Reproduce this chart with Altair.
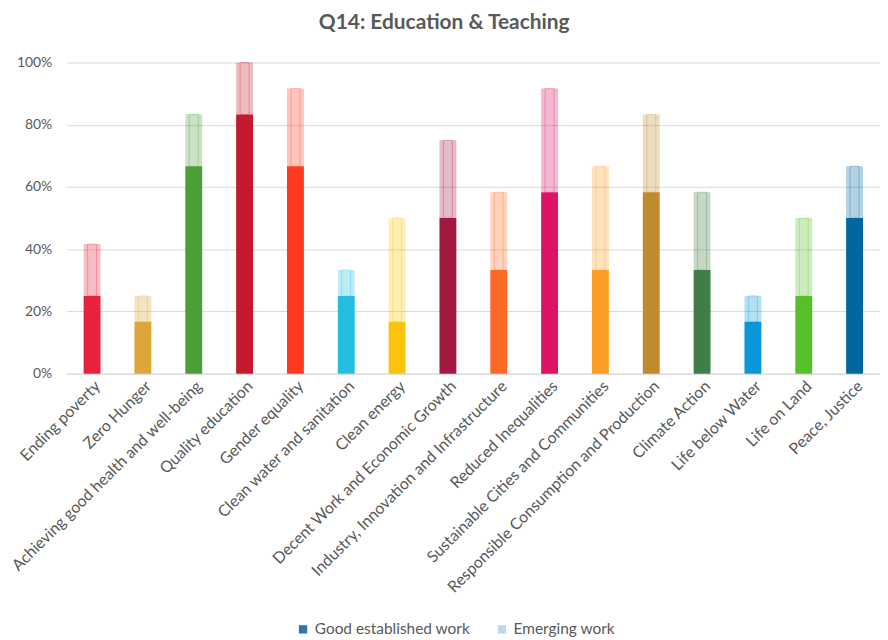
import altair as alt
import pandas as pd

categories = [
    "Ending poverty", "Zero Hunger", "Achieving good health and well-being",
    "Quality education", "Gender equality", "Clean water and sanitation",
    "Clean energy", "Decent Work and Economic Growth",
    "Industry, Innovation and Infrastructure", "Reduced Inequalities",
    "Sustainable Cities and Communities", "Responsible Consumption and Production",
    "Climate Action", "Life below Water", "Life on Land", "Peace, Justice",
]
good = [0.25, 0.1667, 0.6667, 0.8333, 0.6667, 0.25, 0.1667, 0.50,
        0.3333, 0.5833, 0.3333, 0.5833, 0.3333, 0.1667, 0.25, 0.50]
emerging = [0.1667, 0.0833, 0.1667, 0.1667, 0.25, 0.0833, 0.3333, 0.25,
            0.25, 0.3333, 0.3333, 0.25, 0.25, 0.0833, 0.25, 0.1667]
sdg_colors = ["#E5243B", "#DDA63A", "#4C9F38", "#C5192D", "#FF3A21", "#26BDE2",
              "#FCC30B", "#A21942", "#FD6925", "#DD1367", "#FD9D24", "#BF8B2E",
              "#3F7E44", "#0A97D9", "#56C02B", "#00689D"]
series = ["Good established work", "Emerging work"]
legend_colors = ["#2E75B6", "#BDD7EE"]

rows = []
for i, c in enumerate(categories):
    rows.append(dict(cat=c, series=series[0], value=good[i], col=sdg_colors[i], ord=0))
    rows.append(dict(cat=c, series=series[1], value=emerging[i], col=sdg_colors[i], ord=1))
df = pd.DataFrame(rows)

FONT = "Lato"
GRAY = "#595959"

x_enc = alt.X("cat:N", sort=categories, title=None,
              axis=alt.Axis(labelAngle=-45, labelFontSize=16, labelColor=GRAY,
                            labelFont=FONT, ticks=False, domainColor="#d9d9d9",
                            labelPadding=4, labelLimit=500))
y_enc = alt.Y("value:Q", stack="zero", title=None,
              scale=alt.Scale(domain=[0, 1]),
              axis=alt.Axis(format=".0%", values=[0, 0.2, 0.4, 0.6, 0.8, 1.0],
                            labelFontSize=14, labelColor=GRAY, labelFont=FONT,
                            ticks=False, domain=False, gridColor="#d9d9d9",
                            labelPadding=15))

bars = alt.Chart(df).mark_bar(size=17).encode(
    x=x_enc,
    y=y_enc,
    fill=alt.Fill("col:N", scale=None),
    opacity=alt.Opacity("ord:O", scale=alt.Scale(domain=[0, 1], range=[1.0, 0.3]),
                        legend=None),
    order=alt.Order("ord:Q"),
)

hatch = alt.Chart(df).mark_bar(size=9, fill="transparent", strokeWidth=1).encode(
    x=x_enc,
    y=y_enc,
    stroke=alt.Stroke("col:N", scale=None),
    strokeOpacity=alt.StrokeOpacity("ord:O",
                                    scale=alt.Scale(domain=[0, 1], range=[0.0, 0.3]),
                                    legend=None),
    order=alt.Order("ord:Q"),
)

legend_layer = alt.Chart(df).mark_square(size=0, opacity=1).encode(
    x=alt.X("cat:N", sort=categories),
    y=alt.Y(datum=0),
    color=alt.Color("series:N", scale=alt.Scale(domain=series, range=legend_colors),
                    legend=alt.Legend(title=None, orient="none", direction="horizontal",
                                      legendX=230, legendY=562,
                                      symbolType="square", symbolSize=70,
                                      symbolStrokeWidth=0, symbolOpacity=1,
                                      labelFontSize=15.5, labelColor=GRAY, labelFont=FONT,
                                      columnPadding=24)),
)

chart = alt.layer(bars, hatch, legend_layer).properties(
    width=818, height=313,
    padding={"left": 0, "top": 2, "right": 0, "bottom": 0},
    title=alt.Title("Q14: Education & Teaching", fontSize=21, font=FONT,
                    fontWeight="bold", color=GRAY, anchor="middle", frame="bounds",
                    offset=23),
).configure_view(stroke=None)

chart.save("out.html", embed_options={"renderer": "svg", "actions": False})
